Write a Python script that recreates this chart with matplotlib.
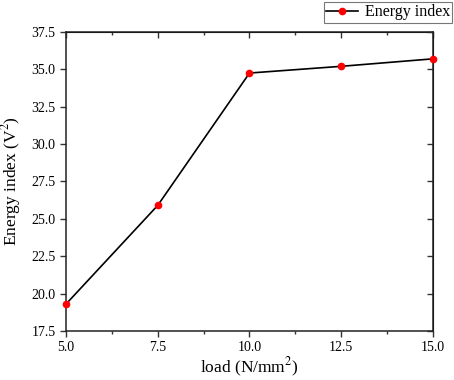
import matplotlib
matplotlib.use("Agg")
import matplotlib.pyplot as plt
from matplotlib.ticker import MultipleLocator

load = [5.0, 7.5, 10.0, 12.5, 15.0]
energy_index = [19.3, 25.9, 34.75, 35.2, 35.7]
xticks = [5.0, 7.5, 10.0, 12.5, 15.0]
yticks = [17.5, 20.0, 22.5, 25.0, 27.5, 30.0, 32.5, 35.0, 37.5]

plt.rcParams['font.family'] = ['Liberation Serif', 'DejaVu Serif']
plt.rcParams['mathtext.fontset'] = 'stix'

fig = plt.figure(figsize=(4.54, 3.80), dpi=100)
ax = fig.add_axes([0.1454, 0.129, 0.8083, 0.787])

ax.plot(load, energy_index, color='black', lw=1.2, marker='o', ms=4.5,
        markerfacecolor='red', markeredgecolor='red', label='Energy index',
        clip_on=False, zorder=3)

ax.set_xlim(5.0, 15.0)
ax.set_ylim(17.5, 37.5)
ax.set_xticks(xticks)
ax.set_xticklabels([f"{v:.1f}" for v in xticks])
ax.set_yticks(yticks)
ax.set_yticklabels([f"{v:.1f}" for v in yticks])
ax.xaxis.set_minor_locator(MultipleLocator(1.25))

ax.tick_params(axis='both', which='major', labelsize=10, direction='out', length=4, width=1, color='#333333')
ax.tick_params(axis='x', which='minor', direction='out', length=2.5, width=1, color='#333333')
secx = ax.secondary_xaxis('top')
secx.set_xticks(xticks)
secx.xaxis.set_minor_locator(MultipleLocator(1.25))
secx.tick_params(which='major', direction='in', length=4, width=1, labeltop=False, color='#333333')
secx.tick_params(which='minor', direction='in', length=2.5, width=1, color='#333333')
secy = ax.secondary_yaxis('right')
secy.set_yticks(yticks)
secy.tick_params(which='major', direction='in', length=4, width=1, labelright=False, color='#333333')

for s in ax.spines.values():
    s.set_linewidth(1.1)
    s.set_color('#222222')

ax.set_xlabel('load (N/mm$^2$)', fontsize=12.5, labelpad=1)
ax.set_ylabel('Energy index (V$^2$)', fontsize=12.5, labelpad=6)

leg = ax.legend(loc='upper right', bbox_to_anchor=(0.996, 0.995), bbox_transform=fig.transFigure,
                fontsize=11.5, frameon=True, fancybox=False, edgecolor='#555555',
                handlelength=2.0, handletextpad=0.4, borderpad=0.15, borderaxespad=0)
leg.get_frame().set_linewidth(0.8)

fig.savefig('out.png', dpi=100)
